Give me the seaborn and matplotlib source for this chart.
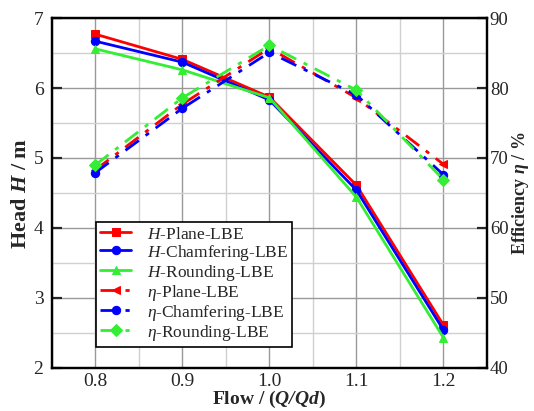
import numpy as np
import matplotlib
matplotlib.use("Agg")
import matplotlib.pyplot as plt
import seaborn as sb
from matplotlib.ticker import MultipleLocator

# data
flow = [0.8, 0.9, 1.0, 1.1, 1.2]

head_plane = [6.77, 6.41, 5.87, 4.61, 2.61]
head_chamfer = [6.67, 6.37, 5.83, 4.54, 2.54]
head_round = [6.56, 6.26, 5.86, 4.44, 2.43]

eff_plane = [68.3, 77.7, 85.7, 78.6, 69.1]
eff_chamfer = [67.9, 77.1, 85.1, 79.0, 67.6]
eff_round = [69.0, 78.6, 86.1, 79.7, 66.9]

labels_h = [r"$H$-Plane-LBE", r"$H$-Chamfering-LBE", r"$H$-Rounding-LBE"]
labels_e = [r"$\eta$-Plane-LBE", r"$\eta$-Chamfering-LBE", r"$\eta$-Rounding-LBE"]

sb.set_style("white")
plt.rcParams['font.family'] = ['Liberation Serif', 'DejaVu Serif']
plt.rcParams['mathtext.fontset'] = 'custom'
plt.rcParams['mathtext.rm'] = 'Liberation Serif'
plt.rcParams['mathtext.it'] = 'Liberation Serif:italic'
plt.rcParams['mathtext.bf'] = 'Liberation Serif:bold:italic'

red, blue, green = '#ff0000', '#0000ff', '#33ee33'

fig = plt.figure(figsize=(5.34, 4.11), dpi=100)
ax = fig.add_axes([0.097, 0.105, 0.815, 0.851])
ax2 = ax.twinx()

# head curves (solid)
for vals, c, m, lab in zip([head_plane, head_chamfer, head_round], [red, blue, green],
                           ['s', 'o', '^'], labels_h):
    sb.lineplot(x=flow, y=vals, ax=ax, color=c, marker=m, markersize=6,
                markeredgecolor=c, linewidth=2, label=lab, legend=False)

# efficiency curves (dash-dot)
for vals, c, m, lab in zip([eff_plane, eff_chamfer, eff_round], [red, blue, green],
                           ['<', 'o', 'D'], labels_e):
    sb.lineplot(x=flow, y=vals, ax=ax2, color=c, marker=m, markersize=6,
                markeredgecolor=c, linewidth=2, linestyle=(0, (6, 3, 1.5, 3)),
                label=lab, legend=False)

ax.set_xlim(0.75, 1.25)
ax.set_ylim(2, 7)
ax2.set_ylim(40, 90)
ax.xaxis.set_minor_locator(MultipleLocator(0.05))
ax.yaxis.set_major_locator(MultipleLocator(1))
ax.yaxis.set_minor_locator(MultipleLocator(0.5))
ax2.yaxis.set_major_locator(MultipleLocator(10))
ax.set_xticks([0.8, 0.9, 1.0, 1.1, 1.2])
ax.set_xticklabels(['0.8', '0.9', '1.0', '1.1', '1.2'])

ax.grid(which='major', color='#999999', linewidth=1.0)
ax.grid(which='minor', color='#d0d0d0', linewidth=1.0)
ax.set_axisbelow(True)

for a in (ax, ax2):
    for s in a.spines.values():
        s.set_linewidth(1.6)
        s.set_color('black')
ax.tick_params(which='major', direction='in', length=7, width=1.6, labelsize=14, pad=6)
ax.tick_params(axis='x', pad=4)
ax.tick_params(which='minor', length=0)
ax2.tick_params(which='major', direction='in', length=7, width=1.6, labelsize=13.5, pad=2)

ax.set_ylabel(r"Head $\mathbf{H}$ / m", fontsize=16, fontweight='bold', labelpad=2)
ax2.set_ylabel(r"Efficiency $\mathbf{\eta}$ / %", fontsize=13, fontweight='bold', labelpad=1)
ax.set_xlabel(r"Flow / ($\mathbf{Q/Qd}$)", fontsize=14, fontweight='bold', labelpad=-1)

h1, l1 = ax.get_legend_handles_labels()
h2, l2 = ax2.get_legend_handles_labels()
leg = ax2.legend(h1 + h2, l1 + l2, loc='lower left', bbox_to_anchor=(0.101, 0.06),
                 borderaxespad=0, fontsize=12.5, frameon=True, fancybox=False,
                 framealpha=1, edgecolor='black', handlelength=1.8,
                 labelspacing=0.0, borderpad=0.25, handletextpad=0.9)
leg.get_frame().set_linewidth(1.2)

fig.savefig("out.png", dpi=100)
